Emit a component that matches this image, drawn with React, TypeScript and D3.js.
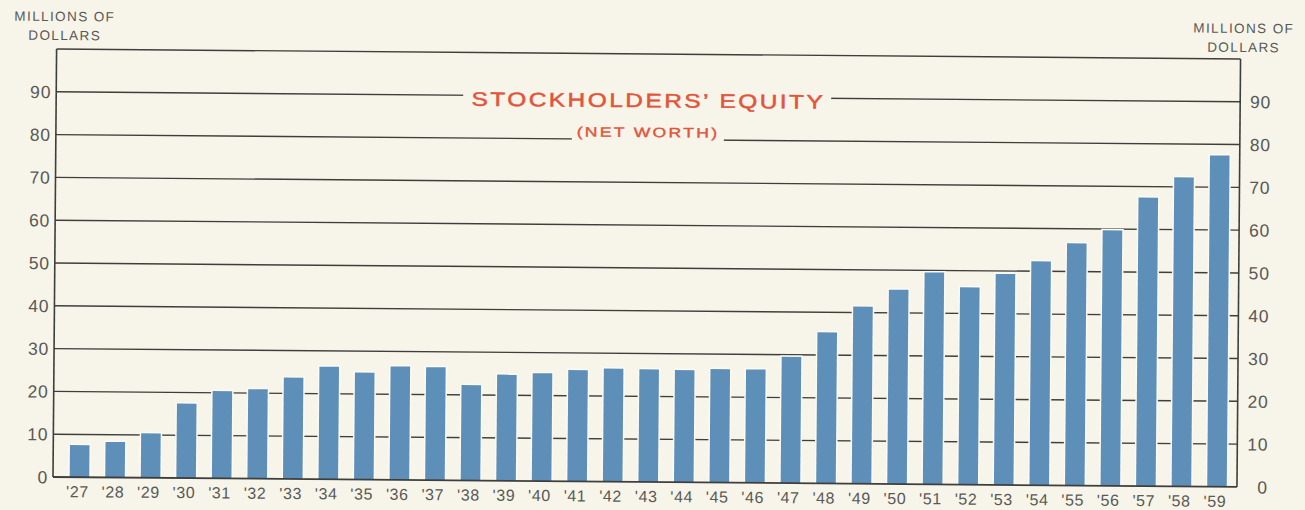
import React from 'react';
import * as d3 from 'd3';

// fiscal years shown under the bars
const years = [
  '27', '28', '29', '30', '31', '32', '33', '34', '35', '36', '37',
  '38', '39', '40', '41', '42', '43', '44', '45', '46', '47', '48',
  '49', '50', '51', '52', '53', '54', '55', '56', '57', '58', '59',
];

// stockholders' equity, millions of dollars
const equity = [
  7.5, 8.3, 10.4, 17.4, 20.4, 20.9, 23.7, 26.3, 25.0, 26.5, 26.4,
  22.3, 24.8, 25.2, 26.0, 26.4, 26.3, 26.2, 26.5, 26.5, 29.5, 35.3,
  41.4, 45.4, 49.5, 46.1, 49.3, 52.3, 56.6, 59.7, 67.4, 72.2, 77.4,
];

const yTicks = [0, 10, 20, 30, 40, 50, 60, 70, 80, 90];

const W = 1305;
const H = 510;
const plot = { left: 53, right: 1237, top: 49, bottom: 477 };
const tilt = 0.48; // the scanned page is slightly rotated

const paper = '#f7f4e9';
const ink = '#3e3e3c';
const labelInk = '#595956';
const red = '#e2553b';
const barBlue = '#5e8fb9';
const font = '"Liberation Sans", Arial, sans-serif';

export default function App() {
  const y = d3.scaleLinear().domain([0, 100]).range([plot.bottom, plot.top]);

  const x = d3.scaleBand<string>()
    .domain(years)
    .range([plot.left + 8.7, plot.right - 2.2])
    .paddingInner(0.45)
    .paddingOuter(0.225);

  return (
    <svg
      width={W}
      height={H}
      style={{ position: 'absolute', left: 0, top: 0, background: paper }}
    >
      <rect width={W} height={H} fill={paper} />
      <g transform={`rotate(${tilt}, ${plot.left}, ${plot.bottom})`}>
        {/* grid lines */}
        {yTicks.filter((t) => t > 0).concat([100]).map((t) => (
          <line
            key={`g${t}`}
            x1={plot.left}
            x2={plot.right}
            y1={y(t)}
            y2={y(t)}
            stroke={ink}
            strokeWidth={1.4}
          />
        ))}
        <line x1={plot.left} x2={plot.left} y1={plot.top} y2={plot.bottom} stroke={ink} strokeWidth={1.6} />
        <line x1={plot.right} x2={plot.right} y1={plot.top} y2={plot.bottom} stroke={ink} strokeWidth={1.6} />

        {/* gaps in the grid for the title */}
        <rect x={460} y={y(90) - 4} width={368} height={8} fill={paper} />
        <rect x={569} y={y(80) - 4} width={152} height={8} fill={paper} />

        <g transform={`translate(644, 0) scale(1.25, 1)`}>
          <text
            x={0}
            y={y(90) + 10.5}
            textAnchor="middle"
            fontFamily={font}
            fontSize={19.5}
            fill={red}
            stroke={red}
            strokeWidth={0.5}
            textLength={281}
            lengthAdjust="spacing"
          >
            STOCKHOLDERS’ EQUITY
          </text>
        </g>
        <g transform={`translate(644, 0) scale(1.3, 1)`}>
          <text
            x={0}
            y={y(80) - 2.5}
            textAnchor="middle"
            fontFamily={font}
            fontSize={13.5}
            fill={red}
            stroke={red}
            strokeWidth={0.4}
            textLength={108}
            lengthAdjust="spacing"
          >
            (NET WORTH)
          </text>
        </g>

        {/* bars */}
        {equity.map((v, i) => (
          <rect
            key={years[i]}
            x={x(years[i])}
            y={y(v)}
            width={x.bandwidth()}
            height={y(0) - y(v)}
            fill={barBlue}
            stroke="#fbfaf3"
            strokeWidth={3}
            style={{ paintOrder: 'stroke' }}
          />
        ))}

        {/* zero line over the bar feet */}
        <line x1={plot.left} x2={plot.right} y1={y(0)} y2={y(0)} stroke={ink} strokeWidth={1.8} />

        {/* tick labels */}
        {yTicks.map((t) => (
          <text
            key={`l${t}`}
            x={48}
            y={y(t)}
            dy="0.36em"
            textAnchor="end"
            fontFamily={font}
            fontSize={17.5}
            fill={labelInk}
            letterSpacing={0.8}
          >
            {t}
          </text>
        ))}
        {yTicks.map((t) => (
          <text
            key={`r${t}`}
            x={1268}
            y={y(t)}
            dy="0.36em"
            textAnchor="end"
            fontFamily={font}
            fontSize={17.5}
            fill={labelInk}
            letterSpacing={0.8}
          >
            {t}
          </text>
        ))}
        {years.map((yr) => (
          <text
            key={`x${yr}`}
            x={(x(yr) ?? 0) + x.bandwidth() / 2 - 2}
            y={plot.bottom + 20}
            textAnchor="middle"
            fontFamily={font}
            fontSize={16}
            fill={labelInk}
            letterSpacing={0.6}
          >
            {`'${yr}`}
          </text>
        ))}

        {/* axis titles */}
        {[61, 1240].map((cx, k) => (
          <g key={`t${k}`} fontFamily={font} fontSize={13.5} fill={labelInk} textAnchor="middle" letterSpacing={1.4}>
            <text x={cx} y={k === 0 ? 21 : 23}>MILLIONS OF</text>
            <text x={cx} y={k === 0 ? 40 : 42}>DOLLARS</text>
          </g>
        ))}
      </g>
    </svg>
  );
}
